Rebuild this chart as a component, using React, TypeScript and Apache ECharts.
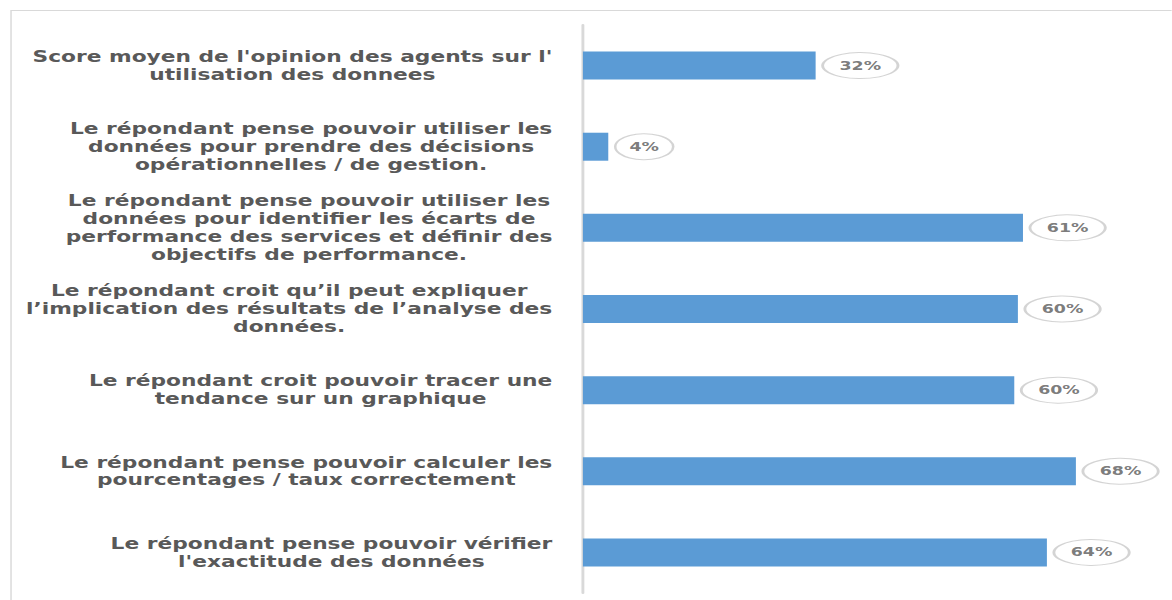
import React, { useEffect, useRef } from "react";
import * as echarts from "echarts";

const categories: string[] = [
  "Score moyen de l'opinion des agents sur l'\nutilisation des donnees",
  "Le répondant pense pouvoir utiliser les\ndonnées pour prendre des décisions\nopérationnelles / de gestion.",
  "Le répondant pense pouvoir utiliser les\ndonnées pour identifier les écarts de\nperformance des services et définir des\nobjectifs de performance.",
  "Le répondant croit qu’il peut expliquer\nl’implication des résultats de l’analyse des\ndonnées.",
  "Le répondant croit pouvoir tracer une\ntendance sur un graphique",
  "Le répondant pense pouvoir calculer les\npourcentages / taux correctement",
  "Le répondant pense pouvoir vérifier\nl'exactitude des données",
];

const values: number[] = [32.1, 3.5, 60.7, 60.0, 59.5, 68.0, 64.0];

const SCALE_X = 1.45;
const FULL_W = 1172;
const FULL_H = 600;
const INNER_W = FULL_W / SCALE_X;

export default function App() {
  const ref = useRef<HTMLDivElement>(null);

  useEffect(() => {
    if (!ref.current) return;
    const chart = echarts.init(ref.current, undefined, { renderer: "svg" });
    const labelFont = "DejaVu Sans";
    chart.setOption({
      animation: false,
      backgroundColor: "#ffffff",
      graphic: [
        {
          type: "rect",
          silent: true,
          shape: { x: 7.6, y: 10.5, width: 1000, height: 800 },
          style: { fill: "none", stroke: "#d9d9d9", lineWidth: 1 },
        },
      ],
      grid: { left: 402, right: 6, top: 25, bottom: 7, containLabel: false },
      xAxis: { type: "value", min: 0, max: 80, show: false },
      yAxis: {
        type: "category",
        data: categories,
        inverse: true,
        axisTick: { show: false },
        axisLine: { show: true, lineStyle: { color: "#d9d9d9", width: 2 } },
        splitLine: { show: false },
        axisLabel: {
          interval: 0,
          margin: 21,
          formatter: (v: string) =>
            v
              .split("\n")
              .map((l) => `{c|${l}}`)
              .join("\n"),
          rich: {
            c: {
              align: "center",
              fontFamily: labelFont,
              fontWeight: "bold",
              fontSize: 15,
              lineHeight: 18,
              color: "#595959",
            },
          },
        },
      },
      series: [
        {
          type: "bar",
          data: values,
          barWidth: 28,
          silent: true,
          itemStyle: { color: "#5b9bd5" },
        },
        {
          type: "scatter",
          silent: true,
          symbol: "circle",
          z: 5,
          data: values.map((v, i) => {
            const w = Math.round(v) < 10 ? 40 : 52;
            return {
              value: [v, i],
              symbolSize: [w, 26],
              symbolOffset: [4.8 + w / 2, 0],
            };
          }),
          itemStyle: { color: "#ffffff", borderColor: "#c9c9c9", borderWidth: 1.4 },
          label: {
            show: true,
            position: "inside",
            formatter: (p: any) => Math.round(values[p.dataIndex]) + "%",
            color: "#595959",
            fontWeight: "bold",
            fontSize: 12,
            fontFamily: labelFont,
          },
        },
      ],
    });
    return () => chart.dispose();
  }, []);

  return (
    <div
      style={{
        position: "fixed",
        left: 0,
        top: 0,
        width: FULL_W,
        height: FULL_H,
        overflow: "hidden",
        background: "#fff",
      }}
    >
      <div
        ref={ref}
        style={{
          width: INNER_W,
          height: FULL_H,
          transform: `scaleX(${SCALE_X})`,
          transformOrigin: "0 0",
        }}
      />
    </div>
  );
}
